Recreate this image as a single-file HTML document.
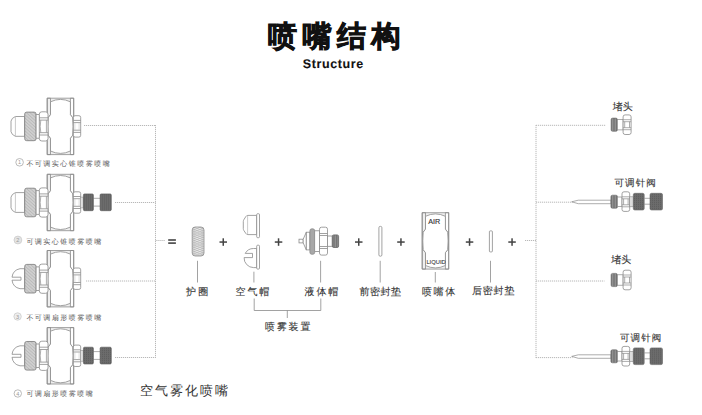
<!DOCTYPE html>
<html><head><meta charset="utf-8">
<style>
html,body{margin:0;padding:0;background:#fff;}
body{width:702px;height:415px;position:relative;overflow:hidden;font-family:"Liberation Sans",sans-serif;}
.t{position:absolute;line-height:1;white-space:nowrap;text-rendering:geometricPrecision;margin-top:0.8px;}
.ttl{left:268px;top:22.2px;font-size:29px;font-weight:bold;letter-spacing:5.5px;color:#111;-webkit-text-stroke:0.9px #111;}
.sub{left:302.8px;top:57.5px;font-size:12.5px;font-weight:bold;color:#111;letter-spacing:0.6px;-webkit-text-stroke:0.1px #111;}
.cap{font-size:7px;color:#555;letter-spacing:1.48px;}
.lbl{font-size:10px;color:#333;letter-spacing:1.6px;-webkit-text-stroke:0.1px #333;}
svg{position:absolute;left:0;top:0;}
</style></head><body>
<svg width="702" height="415" viewBox="0 0 702 415">
<defs>
  <pattern id="hatch" width="1.4" height="1.4" patternUnits="userSpaceOnUse" patternTransform="rotate(-25)">
    <rect width="1.4" height="1.4" fill="#eaeaea"/>
    <rect width="1.4" height="0.55" fill="#9a9a9a"/>
  </pattern>
  <pattern id="thread" width="1.6" height="4" patternUnits="userSpaceOnUse">
    <rect width="1.6" height="4" fill="#959595"/>
    <rect width="0.7" height="4" fill="#6a6a6a"/>
  </pattern>
  <pattern id="dark" width="2" height="2" patternUnits="userSpaceOnUse">
    <rect width="2" height="2" fill="#6c6c6c"/>
    <rect width="1" height="1" fill="#5c5c5c"/>
  </pattern>

  <!-- left nut + body (center y=0, body x 47..73.8) -->
  <g id="bodyshape" stroke="#8a8a8a" stroke-width="0.8">
    <path d="M0,0 H26.5 V56.4 H0 Z M0,0 H3.3 V16.5 L1,19.5 V37 L3.3,40 V56.4 H0 Z M26.5,0 H23.2 V16.5 L25.5,19.5 V37 L23.2,40 V56.4 H26.5 Z" fill="#efefef" fill-rule="nonzero"/>
    <path d="M3.3,3.6 Q13.25,-1.2 23.2,3.6 V16.5 L25.5,19.5 Q26.3,28.2 25.5,37 L23.2,40 V52.8 Q13.25,57.6 3.3,52.8 V40 L1,37 Q0.2,28.2 1,19.5 L3.3,16.5 Z" fill="#fff"/>
  </g>
  <g id="body"><use href="#bodyshape" x="47.2" y="-28.2"/></g>

  <g id="leftnut" stroke="#8a8a8a" stroke-width="0.8" fill="#fff">
    <rect x="36.1" y="-11.8" width="3.4" height="23.6"/>
    <rect x="39.3" y="-14.6" width="8.7" height="29.2" rx="2.5"/>
    <path d="M39.3,-8.6 H48 M39.3,-6.3 H48 M39.3,6.3 H48 M39.3,8.6 H48" fill="none"/>
    <path d="M40.8,-6.3 Q39.6,0 40.8,6.3 M46.4,-6.3 V6.3" fill="none" stroke="#999"/>
  </g>

  <clipPath id="kclip"><rect x="24.7" y="-14.3" width="11.4" height="28.6" rx="2"/></clipPath>
  <g id="knurl">
    <rect x="24.7" y="-14.3" width="11.4" height="28.6" rx="2" fill="#e8e8e8"/>
    <path d="M24,-17.40 L37,-22.60 M24,-15.95 L37,-21.15 M24,-14.50 L37,-19.70 M24,-13.05 L37,-18.25 M24,-11.60 L37,-16.80 M24,-10.15 L37,-15.35 M24,-8.70 L37,-13.90 M24,-7.25 L37,-12.45 M24,-5.80 L37,-11.00 M24,-4.35 L37,-9.55 M24,-2.90 L37,-8.10 M24,-1.45 L37,-6.65 M24,-0.00 L37,-5.20 M24,1.45 L37,-3.75 M24,2.90 L37,-2.30 M24,4.35 L37,-0.85 M24,5.80 L37,0.60 M24,7.25 L37,2.05 M24,8.70 L37,3.50 M24,10.15 L37,4.95 M24,11.60 L37,6.40 M24,13.05 L37,7.85 M24,14.50 L37,9.30 M24,15.95 L37,10.75 M24,17.40 L37,12.20 M24,18.85 L37,13.65 M24,20.30 L37,15.10 M24,21.75 L37,16.55 M24,23.20 L37,18.00" stroke="#999" stroke-width="0.6" clip-path="url(#kclip)"/>
    <rect x="24.7" y="-14.3" width="11.4" height="28.6" rx="2" fill="none" stroke="#7a7a7a" stroke-width="0.8"/>
  </g>

  <g id="noseA" stroke="#8a8a8a" stroke-width="0.8" fill="#fff">
    <path d="M24.7,-9.9 H15.4 Q11.6,-8.4 11,-5.3 V5.3 Q11.6,8.4 15.4,9.9 H24.7 Z"/>
    <path d="M15.4,-9.9 V9.9" fill="none" stroke="#bbb"/>
  </g>

  <g id="noseB" stroke="#8a8a8a" stroke-width="0.8" fill="#fff">
    <path d="M24.7,-10 H20 A10,10 0 0 0 12,-1.5 H21 V1.5 H12 A10,10 0 0 0 20,10 H24.7 Z"/>
  </g>

  <g id="rightnut" stroke="#8a8a8a" stroke-width="0.8" fill="#fff">
    <rect x="73.3" y="-10.7" width="7.4" height="21.4" rx="1.8"/>
    <path d="M73.3,-6 H80.7 M73.3,-3.8 H80.7 M73.3,3.8 H80.7 M73.3,6 H80.7" fill="none"/><path d="M74.9,-3.8 V3.8 M79.1,-3.8 V3.8" fill="none" stroke="#c4c4c4" stroke-width="0.6"/>
  </g>

  <g id="valve">
    <rect x="80.6" y="-5.4" width="2.8" height="10.8" fill="#e2e2e2" stroke="#999" stroke-width="0.6"/>
    <path d="M93.4,-4.2 H100.1 M93.4,3.6 H100.1" stroke="#8a8a8a" stroke-width="0.7" fill="none"/>
    <rect x="83.4" y="-8.6" width="10" height="16.8" rx="1.2" fill="url(#dark)" stroke="#555" stroke-width="0.6"/>
    <rect x="100.1" y="-8.6" width="11.2" height="16.8" rx="1.2" fill="url(#dark)" stroke="#555" stroke-width="0.6"/>
  </g>
</defs>

<!-- Left nozzles -->
<g transform="translate(0,126.4)"><use href="#body"/><use href="#noseA"/><use href="#knurl"/><use href="#leftnut"/><use href="#rightnut"/></g>
<g transform="translate(0,202.5)"><use href="#body"/><use href="#noseA"/><use href="#knurl"/><use href="#leftnut"/><use href="#rightnut"/><use href="#valve"/></g>
<g transform="translate(0,278.7)"><use href="#body"/><use href="#noseB"/><use href="#knurl"/><use href="#leftnut"/><use href="#rightnut"/></g>
<g transform="translate(0,355.8)"><use href="#body"/><use href="#noseB"/><use href="#knurl"/><use href="#leftnut"/><use href="#rightnut"/><use href="#valve"/></g>

<!-- dotted lines left -->
<g stroke="#b8b8b8" stroke-width="1" stroke-dasharray="1.2 0.8" fill="none">
  <path d="M84,125.5 H155.5"/>
  <path d="M115,202.5 H155.5"/>
  <path d="M86,281 H155.5"/>
  <path d="M115,357.5 H155.5"/>
  <path d="M155.5,125 V358"/>
  <path d="M155.5,240.5 H165"/>
</g>

<!-- equals -->
<g fill="#444">
  <rect x="168.2" y="239.2" width="7.7" height="1.6"/>
  <rect x="168.2" y="242.3" width="7.7" height="1.6"/>
</g>

<!-- plus signs -->
<g fill="#444" id="pluses">
  <rect x="219.5" y="241.3" width="7.5" height="1.5"/><rect x="222.5" y="238.3" width="1.5" height="7.5"/>
  <rect x="274.8" y="241.3" width="7.5" height="1.5"/><rect x="277.8" y="238.3" width="1.5" height="7.5"/>
  <rect x="355" y="241.3" width="7.5" height="1.5"/><rect x="358" y="238.3" width="1.5" height="7.5"/>
  <rect x="397.2" y="241.3" width="7.5" height="1.5"/><rect x="400.2" y="238.3" width="1.5" height="7.5"/>
  <rect x="465.8" y="241.3" width="7.5" height="1.5"/><rect x="468.8" y="238.3" width="1.5" height="7.5"/>
  <rect x="508.3" y="241.3" width="7.5" height="1.5"/><rect x="511.3" y="238.3" width="1.5" height="7.5"/>
</g>

<!-- 护圈 retainer -->
<clipPath id="rclip"><rect x="192.2" y="227" width="11.8" height="29" rx="3"/></clipPath>
<rect x="192.2" y="227" width="11.8" height="29" rx="3" fill="#eee"/>
<path d="M191,217.80 L205,212.20 M191,212.92 L205,218.52 M191,220.00 L205,214.40 M191,215.12 L205,220.72 M191,222.20 L205,216.60 M191,217.32 L205,222.92 M191,224.40 L205,218.80 M191,219.52 L205,225.12 M191,226.60 L205,221.00 M191,221.72 L205,227.32 M191,228.80 L205,223.20 M191,223.92 L205,229.52 M191,231.00 L205,225.40 M191,226.12 L205,231.72 M191,233.20 L205,227.60 M191,228.32 L205,233.92 M191,235.40 L205,229.80 M191,230.52 L205,236.12 M191,237.60 L205,232.00 M191,232.72 L205,238.32 M191,239.80 L205,234.20 M191,234.92 L205,240.52 M191,242.00 L205,236.40 M191,237.12 L205,242.72 M191,244.20 L205,238.60 M191,239.32 L205,244.92 M191,246.40 L205,240.80 M191,241.52 L205,247.12 M191,248.60 L205,243.00 M191,243.72 L205,249.32 M191,250.80 L205,245.20 M191,245.92 L205,251.52 M191,253.00 L205,247.40 M191,248.12 L205,253.72 M191,255.20 L205,249.60 M191,250.32 L205,255.92 M191,257.40 L205,251.80 M191,252.52 L205,258.12 M191,259.60 L205,254.00 M191,254.72 L205,260.32 M191,261.80 L205,256.20 M191,256.92 L205,262.52 M191,264.00 L205,258.40 M191,259.12 L205,264.72 M191,266.20 L205,260.60 M191,261.32 L205,266.92 M191,268.40 L205,262.80 M191,263.52 L205,269.12 M191,270.60 L205,265.00 M191,265.72 L205,271.32 M191,272.80 L205,267.20 M191,267.92 L205,273.52" stroke="#a5a5a5" stroke-width="0.5" fill="none" clip-path="url(#rclip)"/>
<rect x="192.2" y="227" width="11.8" height="29" rx="3" fill="none" stroke="#8a8a8a" stroke-width="0.8"/>
<path d="M194,228 V255 M202.2,228 V255" stroke="#bbb" stroke-width="0.6"/>

<!-- air caps -->
<g stroke="#8a8a8a" stroke-width="0.8" fill="#fff">
  <path d="M256.7,215.4 H247.8 Q246.6,215.4 245.8,216.6 L243.8,219.8 Q243.3,220.6 243.3,221.6 V228.6 Q243.3,229.6 243.8,230.4 L245.8,233.4 Q246.6,234.6 247.8,234.6 H256.7 Z"/>
  <path d="M247.6,215.6 V234.4" fill="none" stroke="#aaa" stroke-width="0.6"/>
  <rect x="256.7" y="213.7" width="2.8" height="24" rx="1"/>
  <path d="M256.7,248.5 H253.5 A9.5,9.5 0 0 0 245.2,253.4 H252.5 V257.6 H244.1 A9.6,9.6 0 0 0 253.5,267.6 H256.7 Z"/>
  <rect x="256.7" y="245.2" width="2.8" height="23.9" rx="1"/>
</g>

<!-- liquid cap -->
<g stroke="#8a8a8a" stroke-width="0.8" fill="#fff">
  <rect x="299" y="239.2" width="4.2" height="3.7"/>
  <path d="M303.2,239.2 L306.3,232.2 V249.9 L303.2,242.9 Z"/>
  <rect x="306.3" y="232.2" width="3.6" height="17.7"/>
  <rect x="309.9" y="228.8" width="4.8" height="25.5" rx="2" fill="#a8a8a8"/>
  <rect x="314.7" y="230.8" width="4.8" height="20.7"/>
  <rect x="319.5" y="227.2" width="8" height="27.9" rx="2"/>
  <path d="M319.5,233.5 H327.5 M319.5,235.5 H327.5 M319.5,246.5 H327.5 M319.5,248.5 H327.5" fill="none"/>
  <rect x="327.5" y="236" width="4.8" height="10.3"/>
  <rect x="332.3" y="234.9" width="6.3" height="12.6" rx="1.5" fill="url(#thread)" stroke="#666"/>
</g>

<!-- seals -->
<rect x="378.9" y="226.4" width="3" height="29.8" rx="1.3" fill="#fff" stroke="#8a8a8a" stroke-width="0.8"/>
<rect x="489.4" y="230.9" width="3" height="21" rx="0.8" fill="#fff" stroke="#8a8a8a" stroke-width="0.8"/>

<!-- nozzle body -->
<use href="#bodyshape" x="422.2" y="212.7"/>
<text x="428.2" y="223.5" font-family="Liberation Sans" font-size="7.2" fill="#333" stroke="#333" stroke-width="0.15">AIR</text>
<text x="426.4" y="263.6" font-family="Liberation Sans" font-size="5.8" fill="#444" stroke="#444" stroke-width="0.12">LIQUID</text>

<!-- vertical label lines -->
<g stroke="#8a8a8a" stroke-width="0.8" fill="none">
  <path d="M197.5,260.8 V282.5"/>
  <path d="M253.9,271.7 V282.5"/>
  <path d="M320.6,260.8 V282.5"/>
  <path d="M380.2,260.8 V282.5"/>
  <path d="M435.3,272 V282.5"/>
  <path d="M490.5,260.8 V282.5"/>
  <path d="M254.2,298.5 V310.5 H320.8 V298.5 M287.3,310.5 V318"/>
</g>

<!-- right dotted lines -->
<g stroke="#b8b8b8" stroke-width="1" stroke-dasharray="1.2 0.8" fill="none">
  <path d="M536,125 V358"/>
  <path d="M525,240.5 H536"/>
  <path d="M536,125.3 H606"/>
  <path d="M536,202.2 H572.5"/>
  <path d="M536,281 H604.5"/>
  <path d="M536,357.6 H572.5"/>
</g>

<!-- plugs -->
<g id="plug1" transform="translate(0,124.7)">
  <rect x="611.1" y="-6.6" width="6.3" height="13.2" rx="1.5" fill="url(#thread)" stroke="#666" stroke-width="0.6"/>
  <rect x="617.4" y="-5.2" width="5.7" height="10.4" fill="#fff" stroke="#8a8a8a" stroke-width="0.7"/>
  <rect x="623.1" y="-9.8" width="8" height="19.6" rx="2" fill="#fff" stroke="#8a8a8a" stroke-width="0.8"/>
  <path d="M623.1,-5 H631.1 M623.1,-3 H631.1 M623.1,3 H631.1 M623.1,5 H631.1 M624.7,-3 V3 M629.5,-3 V3" fill="none" stroke="#8a8a8a" stroke-width="0.7"/>
</g>
<use href="#plug1" transform="translate(0,155.3)"/>

<!-- needle valves -->
<g id="nv1" transform="translate(0,201.8)">
  <path d="M571.7,0 L578.3,-1.6 H611 V1.9 H578.3 Z" fill="#fff" stroke="#8a8a8a" stroke-width="0.7"/>
  <rect x="610.9" y="-6.6" width="6.6" height="13" rx="1.5" fill="url(#thread)" stroke="#666" stroke-width="0.6"/>
  <rect x="617.5" y="-4.8" width="4.5" height="9.4" fill="#fff" stroke="#8a8a8a" stroke-width="0.7"/>
  <rect x="622" y="-10" width="7.7" height="19.6" rx="2" fill="#fff" stroke="#8a8a8a" stroke-width="0.8"/>
  <path d="M622,-5 H629.7 M622,-3 H629.7 M622,3 H629.7 M622,5 H629.7 M623.6,-3 V3 M628.1,-3 V3" fill="none" stroke="#8a8a8a" stroke-width="0.7"/>
  <rect x="629.7" y="-5" width="3.6" height="10" fill="#ddd" stroke="#8a8a8a" stroke-width="0.6"/>
  <rect x="633.3" y="-8.5" width="10.9" height="16.7" rx="1.5" fill="url(#dark)" stroke="#666" stroke-width="0.6"/>
  <path d="M644.2,-3.5 H650 M644.2,2.4 H650" stroke="#8a8a8a" stroke-width="0.7"/>
  <rect x="650" y="-8.5" width="12.5" height="16.7" rx="1.5" fill="url(#dark)" stroke="#666" stroke-width="0.6"/>
</g>
<use href="#nv1" transform="translate(0,154.6)"/>

<!-- circled numbers -->
<g stroke="#aaa" stroke-width="0.8" fill="none">
  <circle cx="19.6" cy="162.3" r="3.8"/>
  <circle cx="17.9" cy="240" r="3.9" fill="#e4e4e4" stroke="#ccc"/>
  <circle cx="17.6" cy="316.5" r="3.7" stroke="#ccc" fill="#eee"/>
  <circle cx="17.8" cy="393.5" r="3.7"/>
</g>
<g fill="#999" font-family="Liberation Sans" font-size="5.5" text-anchor="middle">
  <text x="19.6" y="164.3">1</text>
  <text x="17.9" y="242">2</text>
  <text x="17.6" y="318.5">3</text>
  <text x="17.8" y="395.5">4</text>
</g>
</svg>

<div class="t ttl">喷嘴结构</div>
<div class="t sub">Structure</div>

<div class="t cap" style="left:26.4px;top:160.3px">不可调实心锥喷雾喷嘴</div>
<div class="t cap" style="left:26.4px;top:238.3px">可调实心锥喷雾喷嘴</div>
<div class="t cap" style="left:26.4px;top:314.3px">不可调扇形喷雾喷嘴</div>
<div class="t cap" style="left:26.4px;top:390.3px">可调扇形喷雾喷嘴</div>

<div class="t lbl" style="left:186px;top:287px;letter-spacing:2.2px">护圈</div>
<div class="t lbl" style="left:235.5px;top:287px;letter-spacing:1.9px">空气帽</div>
<div class="t lbl" style="left:304.5px;top:287px;letter-spacing:1.9px">液体帽</div>
<div class="t lbl" style="left:359.5px;top:287.3px;letter-spacing:0.5px">前密封垫</div>
<div class="t lbl" style="left:422px;top:287px;letter-spacing:1.6px">喷嘴体</div>
<div class="t lbl" style="left:472px;top:286px;letter-spacing:0.8px">后密封垫</div>
<div class="t lbl" style="left:265px;top:322px;letter-spacing:1.8px">喷雾装置</div>

<div class="t lbl" style="left:612.8px;top:101.8px;letter-spacing:0;-webkit-text-stroke:0.15px #333">堵头</div>
<div class="t lbl" style="left:614.5px;top:178.2px;font-size:9.5px;letter-spacing:1.1px;-webkit-text-stroke:0.1px #333">可调针阀</div>
<div class="t lbl" style="left:611.3px;top:255px;letter-spacing:0;-webkit-text-stroke:0.15px #333">堵头</div>
<div class="t lbl" style="left:620px;top:333.7px;font-size:9.5px;letter-spacing:1.1px;-webkit-text-stroke:0.1px #333">可调针阀</div>

<div class="t" style="left:140px;top:383.7px;font-size:13px;letter-spacing:2px;color:#333">空气雾化喷嘴</div>
</body></html>
